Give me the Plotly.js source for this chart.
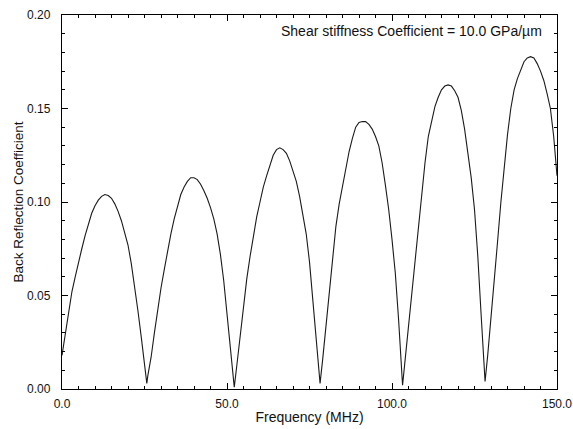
<!DOCTYPE html>
<html>
<head>
<meta charset="utf-8">
<script src="https://cdn.plot.ly/plotly-3.0.1.min.js"></script>
<style>html,body{margin:0;padding:0;background:#fff;}#chart{width:573px;height:429px;}</style>
</head>
<body>
<div id="chart"></div>
<script>
// Frequency (MHz)
const frequency = [
  0,1,2,3,4,5,6,7,8,9,10,11,12,13,14,15,16,17,18,19,20,21,22,23,24,25,25.7,
  26,27,28,29,30,31,32,33,34,35,36,37,38,39,40,41,42,43,44,45,46,47,48,49,50,51,52.2,
  53,54,55,56,57,58,59,60,61,62,63,64,65,66,67,68,69,70,71,72,73,74,75,76,77,78.2,
  79,80,81,82,83,84,85,86,87,88,89,90,91,92,93,94,95,96,97,98,99,100,101,102,103.2,
  104,105,106,107,108,109,110,111,112,113,114,115,116,117,118,119,120,121,122,123,124,125,126,127,128.2,
  129,130,131,132,133,134,135,136,137,138,139,140,141,142,143,144,145,146,147,148,149,150
];
// Back reflection coefficient
const reflection = [
  0.018,0.030,0.042,0.052,0.060,0.068,0.075,0.082,0.088,0.094,0.098,0.101,0.103,0.104,0.1035,0.102,0.099,0.095,0.090,0.084,0.077,0.067,0.055,0.042,0.028,0.013,0.003,
  0.007,0.017,0.030,0.043,0.054,0.064,0.074,0.083,0.091,0.098,0.104,0.108,0.111,0.113,0.113,0.112,0.1095,0.106,0.102,0.097,0.091,0.083,0.072,0.058,0.041,0.022,0.001,
  0.013,0.029,0.045,0.059,0.071,0.082,0.092,0.100,0.108,0.114,0.120,0.125,0.128,0.129,0.128,0.126,0.122,0.117,0.111,0.103,0.094,0.083,0.068,0.049,0.028,0.003,
  0.016,0.034,0.055,0.073,0.087,0.099,0.109,0.118,0.127,0.134,0.140,0.1425,0.143,0.143,0.1415,0.139,0.135,0.130,0.121,0.109,0.096,0.080,0.062,0.037,0.002,
  0.016,0.034,0.052,0.070,0.088,0.105,0.121,0.135,0.144,0.151,0.156,0.160,0.162,0.1626,0.162,0.1595,0.156,0.149,0.139,0.127,0.113,0.096,0.071,0.040,0.004,
  0.018,0.037,0.058,0.079,0.100,0.120,0.136,0.150,0.160,0.166,0.171,0.175,0.177,0.1777,0.177,0.174,0.170,0.165,0.158,0.150,0.135,0.114
];
const annotationText = "Shear stiffness Coefficient = 10.0 GPa/\u00b5m";
const xTitle = "Frequency (MHz)";
const yTitle = "Back Reflection Coefficient";

const family = "Liberation Sans, Arial, sans-serif";
const tickFont = {family: family, size: 12, color: "#111"};
const titleFont = {family: family, size: 14, color: "#111"};
const yTitleFont = {family: family, size: 13.5, color: "#111"};

const trace = {
  x: frequency, y: reflection, type: "scatter", mode: "lines",
  line: {color: "#1a1a1a", width: 1.1}, hoverinfo: "skip"
};

const axisCommon = {
  showline: true, linecolor: "#000", linewidth: 1.2, mirror: "ticks",
  ticks: "inside", ticklen: 6, tickwidth: 1, tickcolor: "#000",
  showgrid: false, zeroline: false, tickfont: tickFont
};

const layout = {
  width: 573, height: 429,
  margin: {l: 62, r: 16, t: 15, b: 40},
  paper_bgcolor: "#fff", plot_bgcolor: "#fff",
  showlegend: false, font: tickFont,
  xaxis: Object.assign({}, axisCommon, {
    range: [0, 150], dtick: 50, tick0: 0, tickformat: ".1f",
    ticklabelstandoff: 3,
    minor: {ticks: "inside", dtick: 5, ticklen: 3, tickcolor: "#000"},
    title: {text: xTitle, font: titleFont, standoff: 2}
  }),
  yaxis: Object.assign({}, axisCommon, {
    range: [0, 0.2], dtick: 0.05, tick0: 0, tickformat: ".2f",
    ticklabelstandoff: 8,
    minor: {ticks: "inside", dtick: 0.01, ticklen: 3, tickcolor: "#000"},
    title: {text: yTitle, font: yTitleFont, standoff: 0}
  }),
  annotations: [{
    x: 146, y: 0.1915, xref: "x", yref: "y", xanchor: "right", yanchor: "middle",
    text: annotationText, showarrow: false, font: titleFont
  }]
};

Plotly.newPlot("chart", [trace], layout, {staticPlot: true, displayModeBar: false});
</script>
</body>
</html>
